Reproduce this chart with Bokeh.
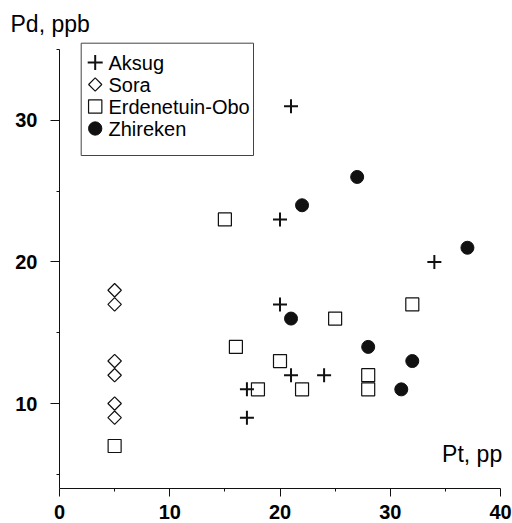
from bokeh.plotting import figure
from bokeh.models import Range1d, FixedTicker, Label
from bokeh.core.properties import value
from bokeh.embed import file_html
from bokeh.resources import INLINE
import math

# ---- data ----
aksug_x = [21, 20, 34, 20, 17, 17, 21, 24]
aksug_y = [31, 23, 20, 17, 11, 9, 12, 12]

sora_x = [5, 5, 5, 5, 5, 5]
sora_y = [18, 17, 13, 12, 10, 9]

erden_x = [5, 15, 16, 18, 20, 22, 25, 28, 28, 32]
erden_y = [7, 23, 14, 11, 13, 11, 16, 12, 11, 17]

zhir_x = [22, 27, 37, 21, 28, 32, 31]
zhir_y = [24, 26, 21, 16, 14, 13, 11]

series_names = ["Aksug", "Sora", "Erdenetuin-Obo", "Zhireken"]
x_ticks = [0, 10, 20, 30, 40]
x_minor = [5, 15, 25, 35]
y_ticks = [10, 20, 30]
y_minor = [5, 15, 25, 35]
x_title = "Pt, pp"
y_title = "Pd, ppb"

FONT = "Liberation Sans"
INK = "#111111"
W, H = 512, 523

# ---- layout: the axis box (x 0..40, y 4..35) sits at these canvas pixels ----
X_LO, X_HI, Y_LO, Y_HI = 0, 40, 4, 35
AX_L, AX_R, AX_T, AX_B = 59, 500, 49, 488
kx = (AX_R - AX_L) / (X_HI - X_LO)
ky = (AX_B - AX_T) / (Y_HI - Y_LO)


def px2x(px):
    return X_LO + (px - AX_L) / kx


def py2y(py):
    return Y_LO + (AX_B - py) / ky


p = figure(width=W, height=H, output_backend="svg", toolbar_location=None,
           x_range=Range1d(px2x(0), px2x(W)), y_range=Range1d(py2y(H), py2y(0)),
           min_border=0, min_border_left=0, min_border_right=0,
           min_border_top=0, min_border_bottom=0)
p.outline_line_color = None
p.xgrid.visible = False
p.ygrid.visible = False
p.background_fill_color = "white"
p.border_fill_color = "white"

for ax in (p.xaxis[0], p.yaxis[0]):
    ax.axis_line_color = INK
    ax.axis_line_width = 1
    ax.major_tick_line_color = INK
    ax.minor_tick_line_color = INK
    ax.major_tick_in = 0
    ax.minor_tick_in = 0
    ax.minor_tick_out = 3
    ax.major_label_text_font = FONT
    ax.major_label_text_font_style = "bold"
    ax.major_label_text_font_size = "20px"
    ax.major_label_text_color = "black"

p.xaxis[0].ticker = FixedTicker(ticks=x_ticks, minor_ticks=x_minor)
p.yaxis[0].ticker = FixedTicker(ticks=y_ticks, minor_ticks=y_minor)
p.xaxis[0].fixed_location = Y_LO
p.yaxis[0].fixed_location = X_LO
p.xaxis[0].bounds = (X_LO, X_HI)
p.yaxis[0].bounds = (Y_LO, Y_HI)
p.xaxis[0].major_tick_out = 8
p.xaxis[0].major_label_standoff = 8
p.yaxis[0].major_tick_out = 9
p.yaxis[0].major_label_standoff = 13

# ---- legend box (drawn first, under everything) ----
LEG_L, LEG_R, LEG_T, LEG_B = 80.7, 253, 42.7, 155
p.quad(left=[px2x(LEG_L)], right=[px2x(LEG_R)], top=[py2y(LEG_T)],
       bottom=[py2y(LEG_B)], fill_color="white", line_color="#444444",
       line_width=1)

# ---- data marks ----
p.scatter(erden_x, erden_y, marker="square", size=13, fill_color="white",
          line_color=INK, line_width=1.2)
p.scatter(sora_x, sora_y, marker="square", angle=math.pi / 4, size=9.5,
          fill_color="white", line_color=INK, line_width=1.2)
p.scatter(aksug_x, aksug_y, marker="cross", size=14, line_color=INK,
          line_width=2)
p.scatter(zhir_x, zhir_y, marker="circle", size=13, fill_color=INK,
          line_color=INK)

# ---- legend keys and labels ----
KEY_PX, LABEL_PX, ROW0_PX, ROW_STEP = 94.7, 108, 62, 22
rows_px = [ROW0_PX + i * ROW_STEP for i in range(len(series_names))]
p.scatter(x=[px2x(KEY_PX)] * 4, y=[py2y(r) for r in rows_px],
          marker=["cross", "square", "square", "circle"],
          angle=[0, math.pi / 4, 0, 0], size=[15, 9.3, 13.3, 13.3],
          fill_color=["white", "white", "white", INK], line_color=INK,
          line_width=[2, 1.2, 1.2, 1])
p.text(x=[px2x(LABEL_PX)] * 4, y=[py2y(r) for r in rows_px],
       text=series_names, text_font=value(FONT), text_font_size="20px",
       text_color="black", text_align="left", text_baseline="middle")

# ---- axis titles ----
p.add_layout(Label(x=px2x(10), y=py2y(23.3), text=y_title, text_font=FONT,
                   text_font_size="23px", text_color="black",
                   text_align="left", text_baseline="middle"))
p.add_layout(Label(x=px2x(501.7), y=py2y(453.7), text=x_title, text_font=FONT,
                   text_font_size="23px", text_color="black",
                   text_align="right", text_baseline="middle"))

open("out.html", "w").write(file_html(p, INLINE))
